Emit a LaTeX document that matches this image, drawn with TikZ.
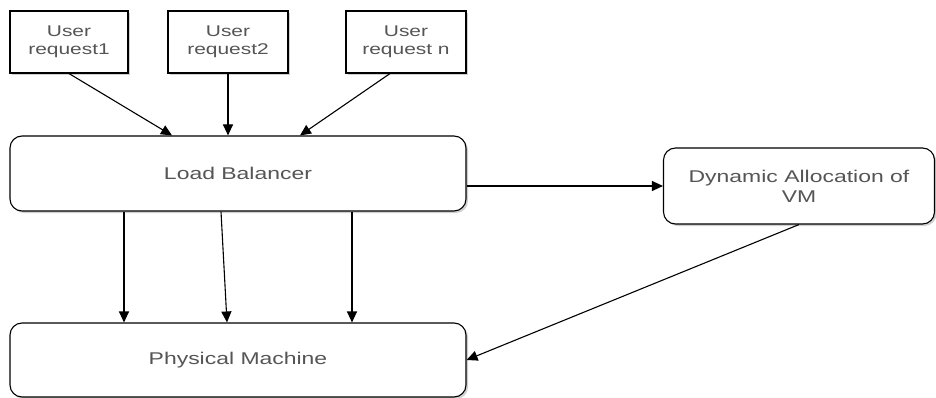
\documentclass[tikz,border=0pt]{standalone}
\usepackage{fontspec}
\newfontfamily\diagfont{Liberation Sans}[FakeStretch=1.35]
\usepackage{tikz}
\usetikzlibrary{shadows,calc,arrows.meta,positioning}
\definecolor{colorText}{HTML}{555555}
\definecolor{colorShadow}{HTML}{B0B0B0}

\begin{document}
\begin{tikzpicture}[x=1pt,y=-1pt,
        box/.style={draw,line width=1.1pt,fill=white,align=center,text=colorText,
            inner sep=0pt,drop shadow={shadow xshift=2pt,shadow yshift=-2pt,fill=colorShadow,opacity=0.6}},
        userbox/.style={box,minimum width=118pt,minimum height=62pt,
            font=\diagfont\fontsize{15.5}{18.5}\selectfont},
        roundbox/.style={box,rounded corners=12pt,minimum height=75pt,
            font=\diagfont\fontsize{17}{20}\selectfont},
        arr/.style={-{Triangle[length=11pt,width=10pt]},line width=1.1pt}]
    \useasboundingbox (0,0) rectangle (936,398);
    % requests
    \node[userbox] (u1) at (69,42) {User\\request1};
    \node[userbox,minimum width=120pt] (u2) at (228,42) {User\\request2};
    \node[userbox,minimum width=120pt] (un) at (406,42) {User\\request n};
    % main boxes
    \node[roundbox,minimum width=456pt] (lb) at (238,173.5) {Load Balancer};
    \node[roundbox,minimum width=456pt,minimum height=74pt] (pm) at (238,360) {Physical Machine};
    \node[roundbox,minimum width=271pt,minimum height=76pt] (da) at (799,186) {Dynamic Allocation of\\VM};
    % connectors
    \draw[arr] (u1.south) -- ([xshift=-66pt]lb.north);
    \draw[arr] (u2.south) -- (u2.south |- lb.north);
    \draw[arr] ([xshift=-16pt]un.south) -- ([xshift=62pt]lb.north);
    \draw[arr] ([xshift=-114pt]lb.south) -- ([xshift=-114pt]pm.north);
    \draw[arr] ([xshift=-17pt]lb.south) -- ([xshift=-11pt]pm.north);
    \draw[arr] ([xshift=114pt]lb.south) -- ([xshift=114pt]pm.north);
    \draw[arr] (lb.east |- da.west) -- (da.west);
    \draw[arr] (da.south) -- (pm.east);
\end{tikzpicture}
\end{document}
